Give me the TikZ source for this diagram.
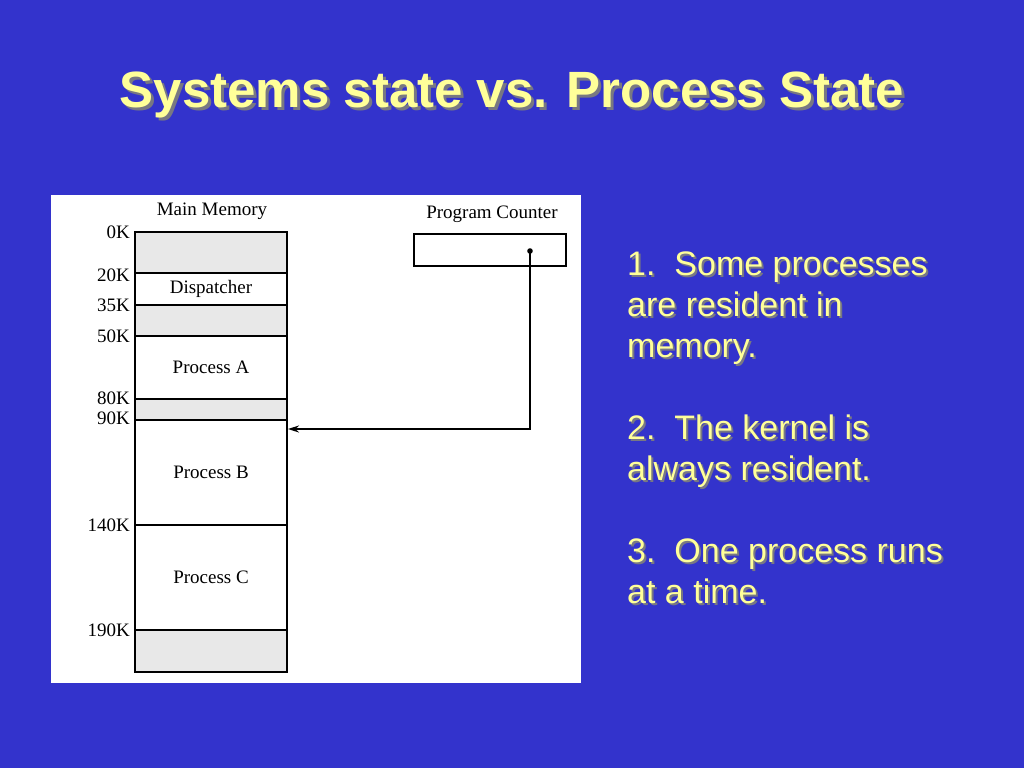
\documentclass[tikz,border=0pt]{standalone}
\usepackage{fontspec}
\setmainfont{Liberation Serif}
\newfontfamily\slidefont{Liberation Sans}
\usetikzlibrary{arrows.meta}
\definecolor{slideblue}{RGB}{51,51,204}
\definecolor{slideyellow}{RGB}{255,255,153}
\definecolor{shadowgray}{RGB}{120,120,130}
\definecolor{stipple}{RGB}{232,232,232}
\tikzset{
  titletext/.style={font=\slidefont\bfseries\fontsize{51}{60}\selectfont, inner sep=0pt, anchor=base},
  bodytext/.style={font=\slidefont\fontsize{34}{41}\selectfont, inner sep=0pt, anchor=base west},
  memtext/.style={font=\fontsize{19}{22}\selectfont, inner sep=0pt},
  freeblock/.style={draw=black, line width=1.1pt, fill=stipple},
  pcarrow/.style={line width=1.6pt, -{Stealth[length=11pt,width=7pt]}}
}

\begin{document}
\begin{tikzpicture}[x=1pt, y=-1pt]
			%%%%% START %%%%%
			
			\fill[slideblue] (0, 0) rectangle (1024, 768);
			\useasboundingbox (0, 0) rectangle (1024, 768);
			
			% title with shadow
			\node[titletext, text=shadowgray] (title-shadow) at (515, 110) {Systems state vs. Process State};
			\node[titletext, text=slideyellow] (title) at (512, 107) {Systems state vs. Process State};
			
			% picture panel
			\fill[white] (51, 195) rectangle (581, 683);
			
			\node[memtext, anchor=base] (mm-title) at (212, 215) {Main Memory};
			\node[memtext, anchor=base] (pc-title) at (492, 218) {Program Counter};
			
			% memory blocks
			\draw[line width=1.1pt] (135, 232) rectangle (287, 672);
			\foreach \top/\bot in {232/273, 305/336, 399/420, 630/672}
				\draw[freeblock] (135, \top) rectangle (287, \bot);
			\foreach \y/\lab in {273/20K, 336/50K, 525/140K}
				\draw[line width=1.1pt] (135, \y) -- (287, \y);
			
			\foreach \y/\lab in {232/0K, 275/20K, 305/35K, 336/50K, 398/80K, 418/90K, 525/140K, 630/190K}
				\node[memtext, anchor=east] (lab-\lab) at (130, \y) {\lab};
			
			\node[memtext] (dispatcher) at (211, 289) {Dispatcher};
			\node[memtext] (proc-a) at (211, 367) {Process A};
			\node[memtext] (proc-b) at (211, 472) {Process B};
			\node[memtext] (proc-c) at (211, 577) {Process C};
			
			% program counter
			\draw[line width=1.1pt] (414, 234) rectangle (566, 266);
			\coordinate (pc-dot) at (530, 251);
			\coordinate (pc-in) at (288, 429);
			\fill (pc-dot) circle (2.8);
			\draw[pcarrow] (pc-dot) |- (pc-in);
			
			% bullet text with shadow
			\foreach \y/\txt [count=\i] in {275/{1.\ \ Some processes}, 316/{are resident in}, 357/{memory.},
				439/{2.\ \ The kernel is}, 480/{always resident.},
				562/{3.\ \ One process runs}, 603/{at a time.}} {
				\node[bodytext, text=shadowgray] (line-shadow-\i) at (629, \y+2) {\txt};
				\node[bodytext, text=slideyellow] (line-\i) at (627, \y) {\txt};
			}
			
			%%%%% END %%%%%
\end{tikzpicture}
\end{document}
